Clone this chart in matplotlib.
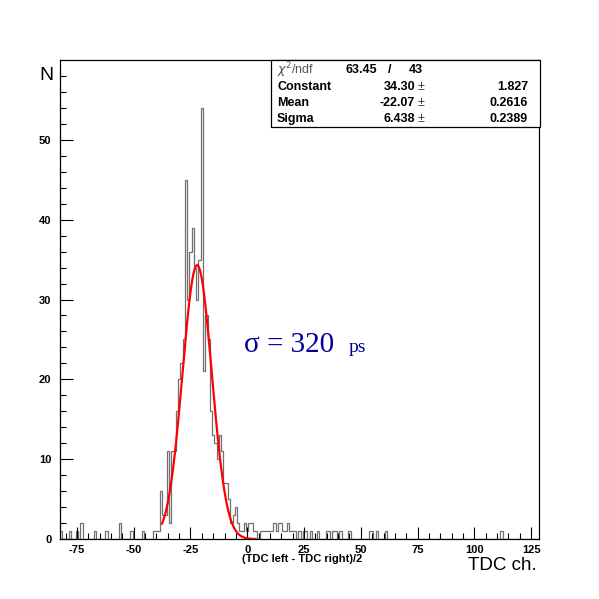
import numpy as np
import matplotlib
matplotlib.use("Agg")
import matplotlib.pyplot as plt
from matplotlib.patches import Rectangle

plt.rcParams["axes.unicode_minus"] = False

# ---------------- data ----------------
x_min, x_max = -82.5, 128.5          # histogram range (bin width 1)
bin_centers = [-82, -78, -75, -73, -67, -62, -56, -51, -46, -41, -40, -39,
               -38, -37, -36, -35, -34, -33, -32, -31, -30, -29, -28, -27,
               -26, -25, -24, -23, -22, -21, -20, -19, -18, -17, -16, -15,
               -14, -13, -12, -11, -10, -9, -8, -7, -6, -5, -4, -3, -2, -1, 0,
               1, 2, 3, 4, 6, 7, 8, 9, 10, 11, 12, 13, 14, 15, 16, 17, 18, 19,
               20, 21, 23, 25, 26, 28, 31, 35, 36, 38, 39, 41, 45, 54, 55, 57,
               61, 112]
bin_counts = [1, 1, 1, 2, 1, 1, 2, 1, 1, 1, 1, 1,
              6, 3, 3, 11, 2, 11, 11, 16, 20, 22, 25, 45,
              30, 36, 39, 34, 30, 35, 54, 21, 28, 25, 16, 13,
              12, 10, 13, 11, 7, 7, 5, 2, 3, 4, 2, 1, 1, 2, 1,
              2, 2, 1, 1, 1, 1, 1, 1, 1, 1, 2, 1, 2, 2, 1, 1, 2, 1,
              1, 1, 1, 1, 1, 1, 1, 1, 1, 1, 1, 1, 1, 1, 1, 1,
              1, 1]

fit_constant, fit_constant_err = 34.30, 1.827
fit_mean, fit_mean_err = -22.07, 0.2616
fit_sigma, fit_sigma_err = 6.438, 0.2389
chi2, ndf = 63.45, 43
fit_range = (-37.5, 3.7)

x_ticks = [-75, -50, -25, 0, 25, 50, 75, 100, 125]
y_ticks = [0, 10, 20, 30, 40, 50]

# ---------------- build histogram ----------------
edges = np.arange(x_min, x_max + 0.5, 1.0)
counts = np.zeros(len(edges) - 1)
for c, n in zip(bin_centers, bin_counts):
    counts[int(round(c - x_min - 0.5))] = n

W, H = 599, 599
fig = plt.figure(figsize=(W / 100, H / 100), dpi=100)
ax = fig.add_axes([0.1, 0.1, 0.8, 0.8])

ax.stairs(counts, edges, color="#707070", lw=0.9, baseline=0)

xf = np.linspace(fit_range[0], fit_range[1], 400)
yf = fit_constant * np.exp(-0.5 * ((xf - fit_mean) / fit_sigma) ** 2)
ax.plot(xf, yf, color="red", lw=1.6)

ax.set_xlim(x_min, x_max)
ax.set_ylim(0, 60)

# ticks ROOT-style (inside, only bottom & left)
ax.set_xticks(x_ticks)
ax.set_xticks(np.arange(-80, 130, 5), minor=True)
ax.set_yticks(y_ticks)
ax.set_yticks(np.arange(0, 60, 2), minor=True)
ax.tick_params(axis="both", which="both", direction="in", top=False, right=False)
ax.tick_params(axis="both", which="major", length=9, width=0.8)
ax.tick_params(axis="both", which="minor", length=4.5, width=0.8)
ax.tick_params(axis="x", pad=4)
ax.tick_params(axis="y", pad=6)
for lab in ax.get_xticklabels() + ax.get_yticklabels():
    lab.set_fontweight("bold")
    lab.set_fontsize(8)
    lab.set_family("Liberation Sans")
for s in ax.spines.values():
    s.set_linewidth(0.9)

def fx(px):
    return px / W

def fy(py):
    return 1 - py / H

# axis titles
fig.text(fx(46), fy(75), "N", fontsize=14, family="Liberation Sans",
         ha="center", va="center")
fig.text(fx(537), fy(566), "TDC ch.", fontsize=13.5, family="Liberation Sans",
         ha="right", va="center")
fig.text(fx(302), fy(559), "(TDC left - TDC right)/2", fontsize=8,
         fontweight="bold", family="Liberation Sans", ha="center", va="center")

# sigma annotation
fig.text(fx(244), fy(352), "\u03c3 = 320", fontsize=21, family="Liberation Serif",
         color="#000099", ha="left", va="baseline")
fig.text(fx(349), fy(352), "ps", fontsize=14, family="Liberation Serif",
         color="#000099", ha="left", va="baseline")

# stats box
bx0, bx1, by0, by1 = 271, 540, 60, 127
fig.patches.append(Rectangle((fx(bx0), fy(by1)), fx(bx1) - fx(bx0),
                             fy(by0) - fy(by1), transform=fig.transFigure,
                             facecolor="white", edgecolor="black", lw=0.9,
                             zorder=5))
rows_y = [70, 87, 103, 119]
tk = dict(family="Liberation Sans", fontsize=9, va="center", zorder=6)
fig.text(fx(277), fy(rows_y[0]), r"$\chi^2$/ndf", color="#555555", **tk)
fig.text(fx(377), fy(rows_y[0]), f"{chi2:.2f}", ha="right", fontweight="bold", **tk)
fig.text(fx(390), fy(rows_y[0]), "/", ha="center", fontweight="bold", **tk)
fig.text(fx(409), fy(rows_y[0]), f"{ndf}", ha="left", fontweight="bold", **tk)
names = ["Constant", "Mean", "Sigma"]
vals = [f"{fit_constant:.2f}", f"{fit_mean:.2f}", f"{fit_sigma:.3f}"]
errs = [f"{fit_constant_err:.3f}", f"{fit_mean_err:.4f}", f"{fit_sigma_err:.4f}"]
for yy, nm, v, e in zip(rows_y[1:], names, vals, errs):
    fig.text(fx(277), fy(yy), nm, ha="left", fontweight="bold", **tk)
    fig.text(fx(415), fy(yy), v, ha="right", fontweight="bold", **tk)
    fig.text(fx(418), fy(yy), "\u00b1", ha="left", color="#333333", **tk)
    fig.text(fx(528), fy(yy), e, ha="right", fontweight="bold", **tk)

fig.savefig("out.png", dpi=100, facecolor="white")
